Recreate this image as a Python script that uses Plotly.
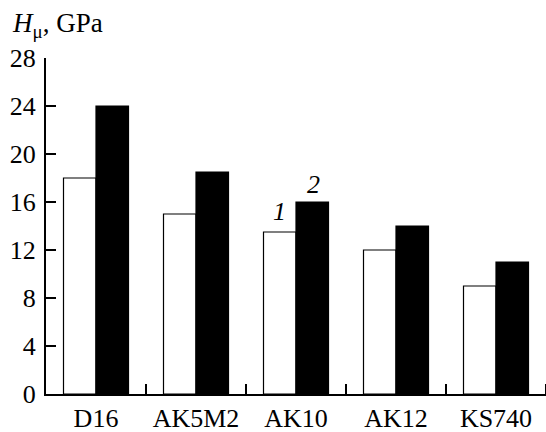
import plotly.graph_objects as go

categories = ["D16", "AK5M2", "AK10", "AK12", "KS740"]
series1 = [18, 15, 13.5, 12, 9]      # white bars (1)
series2 = [24, 18.5, 16, 14, 11]     # black bars (2)
y_ticks = [0, 4, 8, 12, 16, 20, 24, 28]

FONT = "Liberation Serif"
FS = 26
TF = dict(family=FONT, size=FS, color="black")

xpos = list(range(len(categories)))

fig = go.Figure()
fig.add_trace(go.Bar(x=xpos, y=series1, marker=dict(color="white", line=dict(color="black", width=1.2)), name="1"))
fig.add_trace(go.Bar(x=xpos, y=series2, marker=dict(color="black", line=dict(color="black", width=1.2)), name="2"))

fig.update_layout(
    width=546, height=432,
    margin=dict(l=46, r=0, t=58, b=38),
    paper_bgcolor="white", plot_bgcolor="white",
    barmode="group", bargap=0.35, bargroupgap=0,
    showlegend=False,
    font=TF,
)
fig.update_xaxes(
    range=[-0.5, 4.5],
    tickmode="array", tickvals=xpos, ticktext=categories, tickfont=TF,
    ticks="", showline=True, linecolor="black", linewidth=2, showgrid=False, zeroline=False,
    minor=dict(tickmode="array", tickvals=[0.5, 1.5, 2.5, 3.5, 4.5], ticks="inside",
               ticklen=10, tickwidth=2, tickcolor="black", showgrid=False),
)
fig.update_yaxes(
    range=[0, 28], tickmode="array", tickvals=y_ticks, tickfont=TF,
    ticks="inside", ticklen=10, tickwidth=2, tickcolor="black",
    showline=True, linecolor="black", linewidth=2, showgrid=False, zeroline=False,
    ticklabelstandoff=3,
)

fig.add_annotation(x=0, y=1, xref="paper", yref="paper", xanchor="left", yanchor="bottom",
                   xshift=-36, yshift=14, text="<i>H</i><sub>μ</sub>, GPa", showarrow=False,
                   font=dict(family=FONT, size=27, color="black"))
fig.add_annotation(x=2, y=series1[2], xref="x", yref="y", text="<i>1</i>", showarrow=False,
                   xshift=-17, yanchor="bottom", yshift=4, font=TF)
fig.add_annotation(x=2, y=series2[2], xref="x", yref="y", text="<i>2</i>", showarrow=False,
                   xshift=17, yanchor="bottom", yshift=1, font=TF)

fig.write_html("out.html")
